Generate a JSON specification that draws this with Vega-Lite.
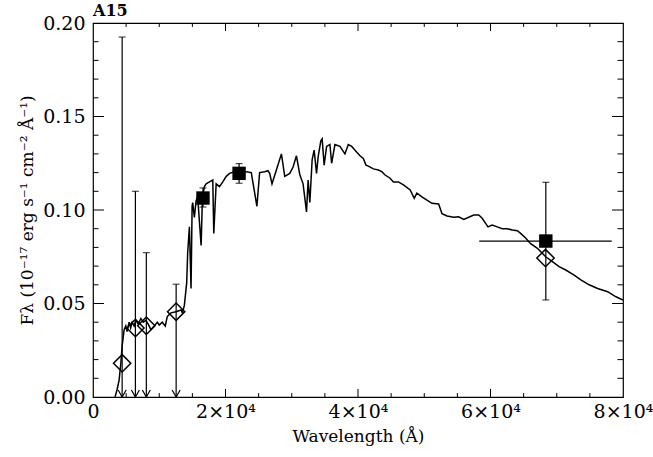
{
  "$schema": "https://vega.github.io/schema/vega-lite/v6.json",
  "width": 530,
  "height": 374,
  "autosize": {"type": "none"},
  "padding": {"left": 93, "top": 23, "right": 30, "bottom": 60},
  "background": "white",
  "config": {
    "view": {"stroke": "black", "strokeWidth": 1.2},
    "font": "DejaVu Serif",
    "axis": {"grid": false, "domain": false, "labelColor": "black", "titleColor": "black", "labelFlush": false, "labelOverlap": false}
  },
  "title": {"text": "A15", "anchor": "start", "frame": "group", "fontSize": 16, "fontWeight": "bold", "font": "DejaVu Serif", "offset": -5, "color": "black"},
  "datasets": {
    "spec": [
      {"lam": 3330, "f": 0}, {"lam": 3640, "f": 0.004}, {"lam": 3940, "f": 0.009}, {"lam": 4200, "f": 0.018},
      {"lam": 4390, "f": 0.027}, {"lam": 4700, "f": 0.036}, {"lam": 4950, "f": 0.038}, {"lam": 5150, "f": 0.035},
      {"lam": 5450, "f": 0.040}, {"lam": 5680, "f": 0.037}, {"lam": 5910, "f": 0.040}, {"lam": 6210, "f": 0.038},
      {"lam": 6470, "f": 0.041}, {"lam": 6820, "f": 0.039}, {"lam": 7230, "f": 0.042}, {"lam": 7580, "f": 0.040},
      {"lam": 7990, "f": 0.041}, {"lam": 8330, "f": 0.039}, {"lam": 8740, "f": 0.036}, {"lam": 9240, "f": 0.038},
      {"lam": 9700, "f": 0.040}, {"lam": 10000, "f": 0.0385}, {"lam": 10450, "f": 0.040}, {"lam": 10910, "f": 0.038},
      {"lam": 11210, "f": 0.043}, {"lam": 11770, "f": 0.045}, {"lam": 12530, "f": 0.0456}, {"lam": 13290, "f": 0.0465},
      {"lam": 13490, "f": 0.045}, {"lam": 13790, "f": 0.049}, {"lam": 14140, "f": 0.061}, {"lam": 14290, "f": 0.077},
      {"lam": 14550, "f": 0.091}, {"lam": 14800, "f": 0.058}, {"lam": 14960, "f": 0.102}, {"lam": 15050, "f": 0.104},
      {"lam": 15300, "f": 0.096}, {"lam": 15560, "f": 0.105}, {"lam": 15800, "f": 0.107}, {"lam": 16320, "f": 0.081},
      {"lam": 16520, "f": 0.107}, {"lam": 16820, "f": 0.1125}, {"lam": 17080, "f": 0.114}, {"lam": 17580, "f": 0.115},
      {"lam": 18080, "f": 0.116}, {"lam": 18230, "f": 0.0875}, {"lam": 18590, "f": 0.114}, {"lam": 19090, "f": 0.1125},
      {"lam": 19590, "f": 0.115}, {"lam": 20110, "f": 0.118}, {"lam": 20610, "f": 0.1196}, {"lam": 21360, "f": 0.1205},
      {"lam": 22120, "f": 0.1205}, {"lam": 23140, "f": 0.1205}, {"lam": 23890, "f": 0.120}, {"lam": 24740, "f": 0.102},
      {"lam": 25150, "f": 0.120}, {"lam": 25910, "f": 0.1205}, {"lam": 26410, "f": 0.121}, {"lam": 26670, "f": 0.1196},
      {"lam": 27020, "f": 0.114}, {"lam": 27680, "f": 0.1214}, {"lam": 28440, "f": 0.130}, {"lam": 28940, "f": 0.118},
      {"lam": 29700, "f": 0.1196}, {"lam": 30200, "f": 0.123}, {"lam": 30710, "f": 0.129}, {"lam": 31210, "f": 0.119},
      {"lam": 31710, "f": 0.114}, {"lam": 32230, "f": 0.099}, {"lam": 32470, "f": 0.116}, {"lam": 32730, "f": 0.104},
      {"lam": 33080, "f": 0.127}, {"lam": 33380, "f": 0.132}, {"lam": 33740, "f": 0.1196}, {"lam": 33990, "f": 0.1285},
      {"lam": 34390, "f": 0.137}, {"lam": 34590, "f": 0.138}, {"lam": 34890, "f": 0.124}, {"lam": 35260, "f": 0.134},
      {"lam": 35760, "f": 0.135}, {"lam": 36020, "f": 0.125}, {"lam": 36520, "f": 0.135}, {"lam": 37270, "f": 0.134},
      {"lam": 38030, "f": 0.130}, {"lam": 38530, "f": 0.135}, {"lam": 39050, "f": 0.134}, {"lam": 39550, "f": 0.132},
      {"lam": 40300, "f": 0.129}, {"lam": 40800, "f": 0.1276}, {"lam": 41210, "f": 0.124}, {"lam": 41560, "f": 0.1235},
      {"lam": 42320, "f": 0.122}, {"lam": 43080, "f": 0.1214}, {"lam": 43590, "f": 0.1205}, {"lam": 44090, "f": 0.1187},
      {"lam": 44850, "f": 0.117}, {"lam": 45350, "f": 0.115}, {"lam": 46110, "f": 0.115}, {"lam": 46860, "f": 0.1134},
      {"lam": 47880, "f": 0.1107}, {"lam": 48490, "f": 0.1063}, {"lam": 48890, "f": 0.109}, {"lam": 49650, "f": 0.107},
      {"lam": 50410, "f": 0.1053}, {"lam": 51170, "f": 0.1036}, {"lam": 52170, "f": 0.1032}, {"lam": 52680, "f": 0.098},
      {"lam": 53440, "f": 0.0968}, {"lam": 54440, "f": 0.0961}, {"lam": 55200, "f": 0.0964}, {"lam": 55960, "f": 0.095},
      {"lam": 56710, "f": 0.0961}, {"lam": 57470, "f": 0.0973}, {"lam": 58230, "f": 0.0973}, {"lam": 58740, "f": 0.0956},
      {"lam": 59240, "f": 0.093}, {"lam": 59620, "f": 0.091}, {"lam": 60260, "f": 0.092}, {"lam": 61020, "f": 0.091},
      {"lam": 61770, "f": 0.090}, {"lam": 62530, "f": 0.090}, {"lam": 63290, "f": 0.0893}, {"lam": 64050, "f": 0.0889},
      {"lam": 64550, "f": 0.0875}, {"lam": 65300, "f": 0.085}, {"lam": 66060, "f": 0.082}, {"lam": 67080, "f": 0.0795},
      {"lam": 68330, "f": 0.075}, {"lam": 69350, "f": 0.0724}, {"lam": 70350, "f": 0.0697}, {"lam": 71360, "f": 0.0679},
      {"lam": 72620, "f": 0.0652}, {"lam": 73640, "f": 0.0626}, {"lam": 74890, "f": 0.060}, {"lam": 76170, "f": 0.058},
      {"lam": 77680, "f": 0.0563}, {"lam": 78940, "f": 0.0536}, {"lam": 80000, "f": 0.0518}
    ],
    "model": [
      {"lam": 4400, "f": 0.018}, {"lam": 6400, "f": 0.0369}, {"lam": 8050, "f": 0.0381},
      {"lam": 12550, "f": 0.0456}, {"lam": 68300, "f": 0.0743}
    ],
    "obs": [
      {"lam": 16600, "f": 0.1064}, {"lam": 22050, "f": 0.1196}, {"lam": 68350, "f": 0.0834}
    ],
    "vbars": [
      {"lam": 4400, "lo": 0, "hi": 0.1925},
      {"lam": 6400, "lo": 0, "hi": 0.110},
      {"lam": 8050, "lo": 0, "hi": 0.0772},
      {"lam": 12550, "lo": 0, "hi": 0.0603},
      {"lam": 16600, "lo": 0.1016, "hi": 0.1118},
      {"lam": 22050, "lo": 0.1143, "hi": 0.1248},
      {"lam": 68350, "lo": 0.0519, "hi": 0.1148}
    ],
    "hbars": [
      {"lo": 58300, "hi": 78300, "f": 0.0834}
    ],
    "caps": [
      {"lam": 4400, "f": 0.1925}, {"lam": 6400, "f": 0.110}, {"lam": 8050, "f": 0.0772}, {"lam": 12550, "f": 0.0603},
      {"lam": 16600, "f": 0.1016}, {"lam": 16600, "f": 0.1118}, {"lam": 22050, "f": 0.1143}, {"lam": 22050, "f": 0.1248},
      {"lam": 68350, "f": 0.0519}, {"lam": 68350, "f": 0.1148}
    ],
    "limits": [
      {"lam": 4400, "f": 0}, {"lam": 6400, "f": 0}, {"lam": 8050, "f": 0}, {"lam": 12550, "f": 0}
    ],
    "xt": [
      {"v": 20000, "lo": 0, "hi": 0.0043}, {"v": 40000, "lo": 0, "hi": 0.0043}, {"v": 60000, "lo": 0, "hi": 0.0043},
      {"v": 20000, "lo": 0.1957, "hi": 0.2}, {"v": 40000, "lo": 0.1957, "hi": 0.2}, {"v": 60000, "lo": 0.1957, "hi": 0.2},
      {"v": 5000, "lo": 0, "hi": 0.0021}, {"v": 10000, "lo": 0, "hi": 0.0021}, {"v": 15000, "lo": 0, "hi": 0.0021},
      {"v": 25000, "lo": 0, "hi": 0.0021}, {"v": 30000, "lo": 0, "hi": 0.0021}, {"v": 35000, "lo": 0, "hi": 0.0021},
      {"v": 45000, "lo": 0, "hi": 0.0021}, {"v": 50000, "lo": 0, "hi": 0.0021}, {"v": 55000, "lo": 0, "hi": 0.0021},
      {"v": 65000, "lo": 0, "hi": 0.0021}, {"v": 70000, "lo": 0, "hi": 0.0021}, {"v": 75000, "lo": 0, "hi": 0.0021},
      {"v": 5000, "lo": 0.1979, "hi": 0.2}, {"v": 10000, "lo": 0.1979, "hi": 0.2}, {"v": 15000, "lo": 0.1979, "hi": 0.2},
      {"v": 25000, "lo": 0.1979, "hi": 0.2}, {"v": 30000, "lo": 0.1979, "hi": 0.2}, {"v": 35000, "lo": 0.1979, "hi": 0.2},
      {"v": 45000, "lo": 0.1979, "hi": 0.2}, {"v": 50000, "lo": 0.1979, "hi": 0.2}, {"v": 55000, "lo": 0.1979, "hi": 0.2},
      {"v": 65000, "lo": 0.1979, "hi": 0.2}, {"v": 70000, "lo": 0.1979, "hi": 0.2}, {"v": 75000, "lo": 0.1979, "hi": 0.2}
    ],
    "yt": [
      {"v": 0.05, "lo": 0, "hi": 1660}, {"v": 0.1, "lo": 0, "hi": 1660}, {"v": 0.15, "lo": 0, "hi": 1660},
      {"v": 0.05, "lo": 78340, "hi": 80000}, {"v": 0.1, "lo": 78340, "hi": 80000}, {"v": 0.15, "lo": 78340, "hi": 80000},
      {"v": 0.01, "lo": 0, "hi": 830}, {"v": 0.02, "lo": 0, "hi": 830}, {"v": 0.03, "lo": 0, "hi": 830}, {"v": 0.04, "lo": 0, "hi": 830},
      {"v": 0.06, "lo": 0, "hi": 830}, {"v": 0.07, "lo": 0, "hi": 830}, {"v": 0.08, "lo": 0, "hi": 830}, {"v": 0.09, "lo": 0, "hi": 830},
      {"v": 0.11, "lo": 0, "hi": 830}, {"v": 0.12, "lo": 0, "hi": 830}, {"v": 0.13, "lo": 0, "hi": 830}, {"v": 0.14, "lo": 0, "hi": 830},
      {"v": 0.16, "lo": 0, "hi": 830}, {"v": 0.17, "lo": 0, "hi": 830}, {"v": 0.18, "lo": 0, "hi": 830}, {"v": 0.19, "lo": 0, "hi": 830},
      {"v": 0.01, "lo": 79170, "hi": 80000}, {"v": 0.02, "lo": 79170, "hi": 80000}, {"v": 0.03, "lo": 79170, "hi": 80000}, {"v": 0.04, "lo": 79170, "hi": 80000},
      {"v": 0.06, "lo": 79170, "hi": 80000}, {"v": 0.07, "lo": 79170, "hi": 80000}, {"v": 0.08, "lo": 79170, "hi": 80000}, {"v": 0.09, "lo": 79170, "hi": 80000},
      {"v": 0.11, "lo": 79170, "hi": 80000}, {"v": 0.12, "lo": 79170, "hi": 80000}, {"v": 0.13, "lo": 79170, "hi": 80000}, {"v": 0.14, "lo": 79170, "hi": 80000},
      {"v": 0.16, "lo": 79170, "hi": 80000}, {"v": 0.17, "lo": 79170, "hi": 80000}, {"v": 0.18, "lo": 79170, "hi": 80000}, {"v": 0.19, "lo": 79170, "hi": 80000}
    ]
  },
  "layer": [
    {
      "data": {"name": "spec"},
      "mark": {"type": "line", "color": "black", "strokeWidth": 1.5, "clip": true, "interpolate": "linear"},
      "encoding": {
        "x": {"field": "lam", "type": "quantitative", "sort": null,
          "scale": {"domain": [0, 80000], "nice": false, "zero": false},
          "axis": {"orient": "bottom", "values": [0, 20000, 40000, 60000, 80000], "ticks": false,
            "labelExpr": "datum.value == 0 ? '0' : format(datum.value / 10000, 'd') + '×10⁴'",
            "labelFontSize": 19, "labelPadding": 5, "labelFont": "DejaVu Serif",
            "title": "Wavelength (Å)", "titleFontSize": 17, "titleFontWeight": "normal", "titlePadding": 7, "titleFont": "DejaVu Serif"}},
        "y": {"field": "f", "type": "quantitative",
          "scale": {"domain": [0, 0.2], "nice": false, "zero": false},
          "axis": {"orient": "left", "values": [0, 0.05, 0.1, 0.15, 0.2], "format": ".2f", "ticks": false,
            "labelFontSize": 19, "labelPadding": 8, "labelFont": "DejaVu Serif",
            "title": "Fλ (10⁻¹⁷ erg s⁻¹ cm⁻² Å⁻¹)", "titleFontSize": 17, "titleFontWeight": "normal", "titlePadding": 6, "titleFont": "DejaVu Serif"}}
      }
    },
    {
      "data": {"name": "vbars"},
      "mark": {"type": "rule", "color": "black", "strokeWidth": 1.2},
      "encoding": {
        "x": {"field": "lam", "type": "quantitative"},
        "y": {"field": "lo", "type": "quantitative"},
        "y2": {"field": "hi"}
      }
    },
    {
      "data": {"name": "hbars"},
      "mark": {"type": "rule", "color": "black", "strokeWidth": 1.2},
      "encoding": {
        "x": {"field": "lo", "type": "quantitative"},
        "x2": {"field": "hi"},
        "y": {"field": "f", "type": "quantitative"}
      }
    },
    {
      "data": {"name": "caps"},
      "mark": {"type": "tick", "orient": "horizontal", "color": "black", "size": 7, "thickness": 1.2},
      "encoding": {
        "x": {"field": "lam", "type": "quantitative"},
        "y": {"field": "f", "type": "quantitative"}
      }
    },
    {
      "data": {"name": "limits"},
      "mark": {"type": "point", "shape": "M -1 -1.75 L 0 0 L 1 -1.75", "size": 64, "filled": false, "color": "black", "strokeWidth": 1.2, "opacity": 1},
      "encoding": {
        "x": {"field": "lam", "type": "quantitative"},
        "y": {"field": "f", "type": "quantitative"}
      }
    },
    {
      "data": {"name": "model"},
      "mark": {"type": "point", "shape": "diamond", "size": 300, "filled": true, "fill": "white", "stroke": "black", "strokeWidth": 1.5, "opacity": 1, "fillOpacity": 0},
      "encoding": {
        "x": {"field": "lam", "type": "quantitative"},
        "y": {"field": "f", "type": "quantitative"}
      }
    },
    {
      "data": {"name": "obs"},
      "mark": {"type": "point", "shape": "square", "size": 180, "filled": true, "color": "black", "opacity": 1},
      "encoding": {
        "x": {"field": "lam", "type": "quantitative"},
        "y": {"field": "f", "type": "quantitative"}
      }
    },
    {
      "data": {"name": "xt"},
      "mark": {"type": "rule", "color": "black", "strokeWidth": 1},
      "encoding": {
        "x": {"field": "v", "type": "quantitative"},
        "y": {"field": "lo", "type": "quantitative"},
        "y2": {"field": "hi"}
      }
    },
    {
      "data": {"name": "yt"},
      "mark": {"type": "rule", "color": "black", "strokeWidth": 1},
      "encoding": {
        "y": {"field": "v", "type": "quantitative"},
        "x": {"field": "lo", "type": "quantitative"},
        "x2": {"field": "hi"}
      }
    }
  ]
}
